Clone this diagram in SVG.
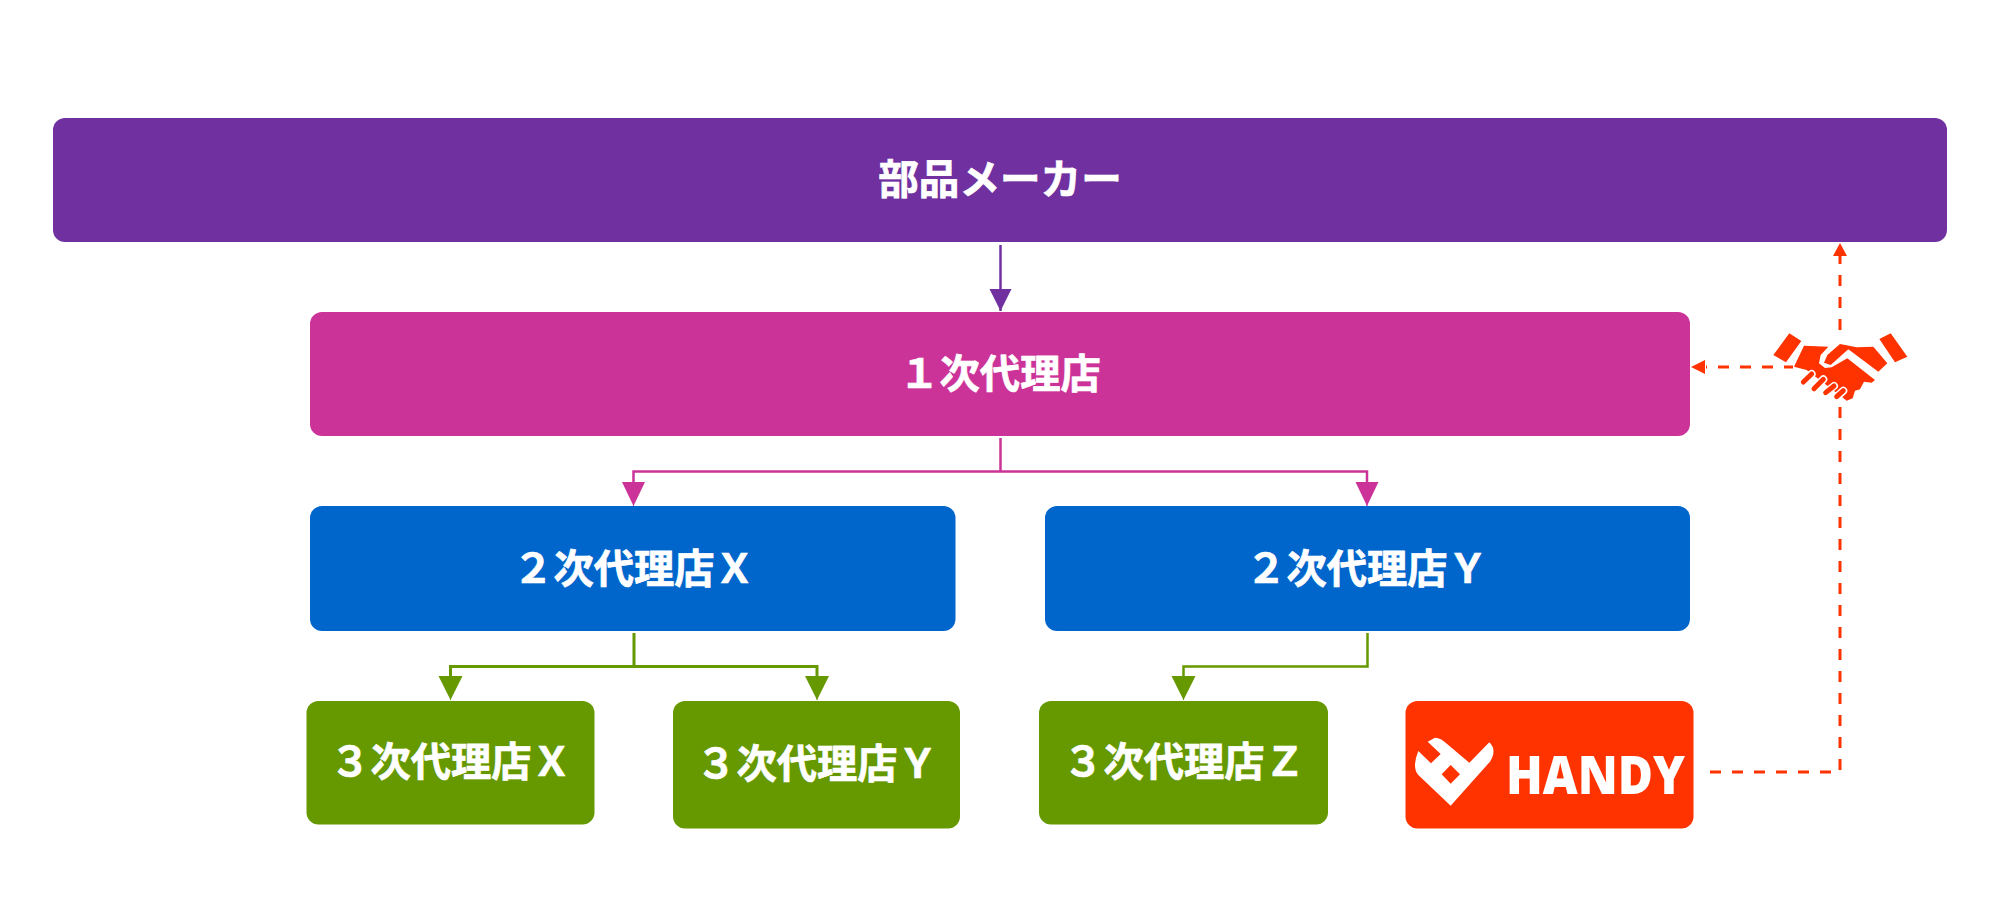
<svg xmlns="http://www.w3.org/2000/svg" width="2000" height="900" viewBox="0 0 2000 900">
<style>
.t{font-family:"Noto Sans CJK JP","Noto Sans",sans-serif;font-weight:700;font-size:40.6px;fill:#fff;stroke:#fff;stroke-width:.7px;text-anchor:middle}
.s{font-size:40.3px}
.red{stroke:#FF3300;stroke-width:3;stroke-dasharray:11 11;fill:none}
</style>
<defs>
<marker id="mp" markerUnits="userSpaceOnUse" markerWidth="24" markerHeight="24" refX="22" refY="11" orient="auto"><path d="M0 0L22 11L0 22Z" fill="#7030A0"/></marker>
<marker id="mm" markerUnits="userSpaceOnUse" markerWidth="26" markerHeight="24" refX="24" refY="11.5" orient="auto"><path d="M0 0L24 11.5L0 23Z" fill="#CC3399"/></marker>
<marker id="mg" markerUnits="userSpaceOnUse" markerWidth="26" markerHeight="26" refX="24" refY="12" orient="auto"><path d="M0 0L24 12L0 24Z" fill="#669900"/></marker>
</defs>
<rect width="2000" height="900" fill="#fff"/>
<g id="connectors">
<path d="M1000.5 245V311" stroke="#7030A0" stroke-width="2.5" fill="none" marker-end="url(#mp)"/>
<path d="M1000.5 438V471.5M633.500 490V471.500H1367V490" stroke="#CC3399" stroke-width="2.500" fill="none"/>
<path d="M633.500 482V506" stroke="#CC3399" fill="none" marker-end="url(#mm)"/>
<path d="M1367 482V506" stroke="#CC3399" fill="none" marker-end="url(#mm)"/>
<path d="M634 633V666.500M450.500 690V666.500H817V690" stroke="#669900" stroke-width="3" fill="none"/>
<path d="M450.500 675V700" stroke="#669900" fill="none" marker-end="url(#mg)"/>
<path d="M817 675V700" stroke="#669900" fill="none" marker-end="url(#mg)"/>
<path d="M1367.500 633V666.500H1183.500V690" stroke="#669900" stroke-width="2.500" fill="none"/>
<path d="M1183.500 675V700" stroke="#669900" fill="none" marker-end="url(#mg)"/>
<path class="red" d="M1840 407V772H1705"/>
<path class="red" d="M1840 330V256"/>
<path d="M1840 243L1847 256H1833Z" fill="#FF3300"/>
<path class="red" stroke-dashoffset="2" d="M1793 367H1706"/>
<path d="M1691 367L1705 360V374Z" fill="#FF3300"/>
</g>
<g id="maker"><rect x="53" y="118" width="1894" height="124" rx="12" fill="#7030A0"/><text class="t" x="1000" y="194">部品メーカー</text></g>
<g id="agent1"><rect x="310" y="312" width="1380" height="124" rx="12" fill="#CC3399"/><text class="t s" x="1000" y="388">１次代理店</text></g>
<g id="agent2x"><rect x="310" y="506" width="645.500" height="125" rx="12" fill="#0066CC"/><text class="t s" x="634" y="583">２次代理店Ｘ</text></g>
<g id="agent2y"><rect x="1045" y="506" width="645" height="125" rx="12" fill="#0066CC"/><text class="t s" x="1367" y="583">２次代理店Ｙ</text></g>
<g id="agent3x"><rect x="306.500" y="701" width="288" height="123.500" rx="12" fill="#669900"/><text class="t s" x="451" y="776">３次代理店Ｘ</text></g>
<g id="agent3y"><rect x="673" y="701" width="287" height="127.500" rx="12" fill="#669900"/><text class="t s" x="817" y="778">３次代理店Ｙ</text></g>
<g id="agent3z"><rect x="1039" y="701" width="289" height="123.500" rx="12" fill="#669900"/><text class="t s" x="1184" y="776">３次代理店Ｚ</text></g>
<g id="handy"><rect x="1405.500" y="701" width="288" height="127.500" rx="12" fill="#FF3300"/>
<path transform="translate(1380 680) scale(.33333)" fill="#fff" fill-rule="evenodd" d="M212 377L115 285Q95 262 115 213L153 250L182 222L143 185L165 173Q185 175 195 187L268 248L328 187Q352 210 330 245ZM212 255L185 283L212 311L240 283Z"/>
<text x="1506" y="794" font-family="Open Sans,sans-serif" font-weight="800" font-size="53" fill="#fff" textLength="179" lengthAdjust="spacingAndGlyphs">HANDY</text></g>
<g id="handshake" transform="translate(1660 230) scale(.33333)">
<path fill="#FF3300" d="M388 310L424 333L378 397L340 375ZM692 310L742 380L705 397L658 327Z"/>
<path fill="#FF3300" d="M432 347L505 350L482 375L477 400L495 414L515 412L562 385L645 450L635 458L612 455L600 478L585 482L578 505L560 512L545 500L440 420L402 410Z"/>
<path fill="#FF3300" d="M540 342L590 352L640 350L682 400L655 425L565 358L512 405L492 398L502 375Z"/>
<path fill="none" stroke="#fff" stroke-width="24" stroke-linecap="round" d="M455 432L430 456M490 448L462 476M522 468L497 488M550 482L530 500"/>
<path fill="none" stroke="#FF3300" stroke-width="15" stroke-linecap="round" d="M455 432L430 456M490 448L462 476M522 468L497 488M550 482L530 500"/>
</g>
</svg>
